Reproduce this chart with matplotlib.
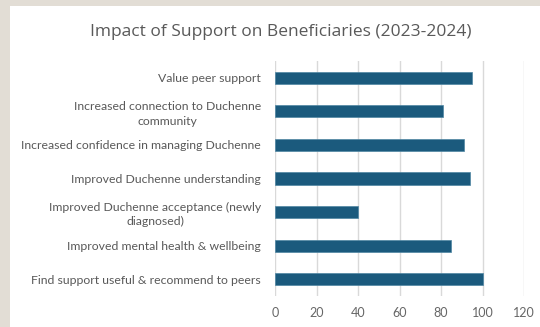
import matplotlib.pyplot as plt
from matplotlib.patches import Rectangle

plt.rcParams['font.family'] = ['Lato', 'DejaVu Sans']

categories = [
    "Value peer support",
    "Increased connection to Duchenne\ncommunity",
    "Increased confidence in managing Duchenne",
    "Improved Duchenne understanding",
    "Improved Duchenne acceptance (newly\ndiagnosed)",
    "Improved mental health & wellbeing",
    "Find support useful & recommend to peers",
]
values = [95, 81, 91, 94, 40, 85, 100]
xticks = [0, 20, 40, 60, 80, 100, 120]

fig = plt.figure(figsize=(5.4, 3.27), dpi=100)
fig.patch.set_facecolor("#e2ddd5")
fig.patches.append(Rectangle((10 / 540, 0), 1, 1 - 6 / 327, transform=fig.transFigure,
                             facecolor="white", edgecolor="none", zorder=-1))

ax = fig.add_axes([275 / 540, 1 - 296 / 327, 249 / 540, 235 / 327])
ax.set_facecolor("none")
pos = list(range(len(categories)))
ax.barh(pos, values, height=0.36, color="#1b5a7d", edgecolor="#4f86a3", linewidth=0.5, zorder=3)
ax.set_ylim(len(categories) - 0.5, -0.5)
ax.set_xlim(0, 120)
ax.set_xticks(xticks)
ax.set_yticks(pos)
ax.set_yticklabels(categories)
for lab in ax.get_yticklabels():
    lab.set_multialignment("center")
    lab.set_linespacing(1.35)
ax.tick_params(axis="y", length=0, pad=10, labelsize=8.8, labelcolor="#595959")
ax.tick_params(axis="x", length=0, pad=8, labelsize=9, labelcolor="#666666")
ax.grid(axis="x", color="#d9d9d9", linewidth=1, zorder=0)
for s in ax.spines.values():
    s.set_visible(False)

fig.text(281 / 540, 1 - 32 / 327, "Impact of Support on Beneficiaries (2023-2024)",
         ha="center", va="center", fontsize=12.5, color="#595959", family=["Open Sans", "DejaVu Sans"])

fig.savefig("out.png", dpi=100, facecolor=fig.get_facecolor())
